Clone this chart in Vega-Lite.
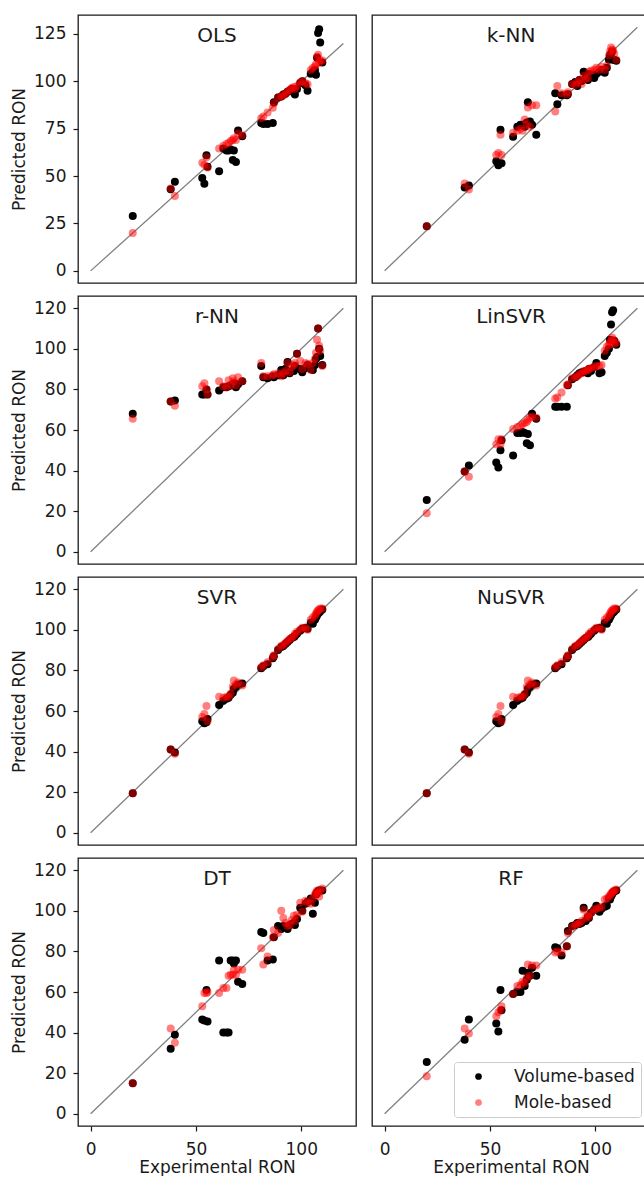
{
"$schema": "https://vega.github.io/schema/vega-lite/v6.json",
"padding": {"left": 9, "top": 14, "right": 0, "bottom": 0},
"spacing": 11,
"resolve": {"scale": {"x": "independent", "y": "independent", "color": "independent"}, "legend": {"color": "independent"}},
"datasets": {
"diag": [{"x": 0, "p": 0}, {"x": 120, "p": 120}],
"pts": [
{"m":"OLS","x":20,"v":29,"r":20},{"m":"OLS","x":38,"v":43,"r":43.5},{"m":"OLS","x":40,"v":47,"r":39.5},{"m":"OLS","x":53,"v":49,"r":57},{"m":"OLS","x":54,"v":46,"r":56},{"m":"OLS","x":55,"v":61,"r":60},{"m":"OLS","x":55.5,"v":55,"r":54.5},{"m":"OLS","x":61,"v":52.5,"r":64.5},{"m":"OLS","x":63,"v":64.5,"r":66},{"m":"OLS","x":64.5,"v":63.5,"r":67},{"m":"OLS","x":65.5,"v":63.5,"r":67.5},{"m":"OLS","x":66.5,"v":64,"r":68.5},{"m":"OLS","x":67.5,"v":58.5,"r":69},{"m":"OLS","x":68,"v":63.5,"r":70},{"m":"OLS","x":69,"v":57.5,"r":69},{"m":"OLS","x":70,"v":74,"r":72.5},{"m":"OLS","x":72,"v":71,"r":71.5},{"m":"OLS","x":81,"v":78,"r":80.5},{"m":"OLS","x":82,"v":77.5,"r":81.5},{"m":"OLS","x":84,"v":77.5,"r":83.5},{"m":"OLS","x":86.5,"v":78,"r":86},{"m":"OLS","x":87,"v":89,"r":88.5},{"m":"OLS","x":89,"v":91.5,"r":91.5},{"m":"OLS","x":90.5,"v":92,"r":92},{"m":"OLS","x":91.5,"v":93,"r":92.5},{"m":"OLS","x":92.5,"v":93.5,"r":93.5},{"m":"OLS","x":93.5,"v":94.5,"r":94.5},{"m":"OLS","x":94.5,"v":95,"r":95.5},{"m":"OLS","x":95.5,"v":96,"r":96.5},{"m":"OLS","x":96.5,"v":94,"r":97},{"m":"OLS","x":97,"v":93,"r":96},{"m":"OLS","x":98,"v":96,"r":97.5},{"m":"OLS","x":99.5,"v":99,"r":99.5},{"m":"OLS","x":100.5,"v":100,"r":100},{"m":"OLS","x":102,"v":98,"r":99},{"m":"OLS","x":103,"v":95,"r":98.5},{"m":"OLS","x":104.5,"v":104,"r":106},{"m":"OLS","x":105.5,"v":105,"r":107},{"m":"OLS","x":106.5,"v":106,"r":108},{"m":"OLS","x":107,"v":103.5,"r":109},{"m":"OLS","x":107.5,"v":112.5,"r":113},{"m":"OLS","x":108,"v":125.5,"r":114},{"m":"OLS","x":108.5,"v":127.5,"r":110},{"m":"OLS","x":109,"v":120.5,"r":111},{"m":"OLS","x":110,"v":110,"r":111},
{"m":"kNN","x":20,"v":22,"r":22},{"m":"kNN","x":38,"v":41,"r":43},{"m":"kNN","x":40,"v":42,"r":40},{"m":"kNN","x":53,"v":54,"r":57},{"m":"kNN","x":54,"v":52,"r":58},{"m":"kNN","x":55,"v":69.5,"r":67},{"m":"kNN","x":55.5,"v":53,"r":57},{"m":"kNN","x":61,"v":66,"r":68},{"m":"kNN","x":63,"v":71,"r":69},{"m":"kNN","x":64.5,"v":72,"r":70},{"m":"kNN","x":65.5,"v":72,"r":69},{"m":"kNN","x":66.5,"v":71,"r":74.5},{"m":"kNN","x":67.5,"v":73,"r":72},{"m":"kNN","x":68,"v":83,"r":80.5},{"m":"kNN","x":69,"v":73.5,"r":71},{"m":"kNN","x":70,"v":72,"r":81.5},{"m":"kNN","x":72,"v":67,"r":81.5},{"m":"kNN","x":81,"v":87.5,"r":78.5},{"m":"kNN","x":82,"v":82,"r":91},{"m":"kNN","x":84,"v":86.5,"r":87.5},{"m":"kNN","x":86.5,"v":86.5,"r":87},{"m":"kNN","x":87,"v":87,"r":88},{"m":"kNN","x":89,"v":92,"r":92},{"m":"kNN","x":90.5,"v":93,"r":91.5},{"m":"kNN","x":91.5,"v":91,"r":93},{"m":"kNN","x":92.5,"v":94,"r":94},{"m":"kNN","x":93.5,"v":93.5,"r":92},{"m":"kNN","x":94.5,"v":98,"r":96},{"m":"kNN","x":95.5,"v":95,"r":94.5},{"m":"kNN","x":96.5,"v":94,"r":95},{"m":"kNN","x":97,"v":97,"r":98},{"m":"kNN","x":98,"v":96.5,"r":98.5},{"m":"kNN","x":99.5,"v":95,"r":99},{"m":"kNN","x":100.5,"v":97,"r":100},{"m":"kNN","x":102,"v":98,"r":99},{"m":"kNN","x":103,"v":99,"r":100.5},{"m":"kNN","x":104.5,"v":97.5,"r":99},{"m":"kNN","x":105.5,"v":100,"r":101},{"m":"kNN","x":106.5,"v":104,"r":106},{"m":"kNN","x":107,"v":106,"r":108},{"m":"kNN","x":107.5,"v":107,"r":110},{"m":"kNN","x":108,"v":108,"r":109},{"m":"kNN","x":108.5,"v":104,"r":108.5},{"m":"kNN","x":109,"v":104,"r":107},{"m":"kNN","x":110,"v":103.5,"r":104},
{"m":"rNN","x":20,"v":68,"r":65.5},{"m":"rNN","x":38,"v":74,"r":74},{"m":"rNN","x":40,"v":74.5,"r":72},{"m":"rNN","x":53,"v":77.5,"r":81.5},{"m":"rNN","x":54,"v":77.5,"r":83},{"m":"rNN","x":55,"v":80,"r":80},{"m":"rNN","x":55.5,"v":77.5,"r":77.5},{"m":"rNN","x":61,"v":79.5,"r":84},{"m":"rNN","x":63,"v":81,"r":81.5},{"m":"rNN","x":64.5,"v":81,"r":81},{"m":"rNN","x":65.5,"v":81.5,"r":84.5},{"m":"rNN","x":66.5,"v":82,"r":82},{"m":"rNN","x":67.5,"v":82,"r":85.5},{"m":"rNN","x":68,"v":83,"r":84},{"m":"rNN","x":69,"v":81,"r":82},{"m":"rNN","x":70,"v":82.5,"r":86},{"m":"rNN","x":72,"v":84,"r":84},{"m":"rNN","x":81,"v":91.5,"r":93},{"m":"rNN","x":82,"v":86,"r":86.5},{"m":"rNN","x":84,"v":85.5,"r":86.5},{"m":"rNN","x":86.5,"v":86.5,"r":87},{"m":"rNN","x":87,"v":86,"r":87.5},{"m":"rNN","x":89,"v":87,"r":88},{"m":"rNN","x":90.5,"v":89.5,"r":86.5},{"m":"rNN","x":91.5,"v":87,"r":88},{"m":"rNN","x":92.5,"v":90,"r":89},{"m":"rNN","x":93.5,"v":93.5,"r":93},{"m":"rNN","x":94.5,"v":88,"r":88.5},{"m":"rNN","x":95.5,"v":89,"r":91},{"m":"rNN","x":96.5,"v":89,"r":92},{"m":"rNN","x":97,"v":91.5,"r":93},{"m":"rNN","x":98,"v":97.5,"r":97.5},{"m":"rNN","x":99.5,"v":90,"r":94},{"m":"rNN","x":100.5,"v":88.5,"r":90},{"m":"rNN","x":102,"v":90.5,"r":93},{"m":"rNN","x":103,"v":92,"r":92.5},{"m":"rNN","x":104.5,"v":90,"r":89.5},{"m":"rNN","x":105.5,"v":89.5,"r":93},{"m":"rNN","x":106.5,"v":92,"r":95},{"m":"rNN","x":107,"v":95,"r":98},{"m":"rNN","x":107.5,"v":96,"r":104.5},{"m":"rNN","x":108,"v":110,"r":110},{"m":"rNN","x":108.5,"v":100,"r":101.5},{"m":"rNN","x":109,"v":96.5,"r":99},{"m":"rNN","x":110,"v":92,"r":91.5},
{"m":"LinSVR","x":20,"v":25.5,"r":19},{"m":"LinSVR","x":38,"v":39.5,"r":39.5},{"m":"LinSVR","x":40,"v":42.5,"r":37},{"m":"LinSVR","x":53,"v":44,"r":53},{"m":"LinSVR","x":54,"v":41.5,"r":55.5},{"m":"LinSVR","x":55,"v":50,"r":53},{"m":"LinSVR","x":55.5,"v":55,"r":55.5},{"m":"LinSVR","x":61,"v":47.5,"r":60.5},{"m":"LinSVR","x":63,"v":58.5,"r":61.5},{"m":"LinSVR","x":64.5,"v":58.5,"r":62},{"m":"LinSVR","x":65.5,"v":59,"r":63},{"m":"LinSVR","x":66.5,"v":58.5,"r":63.5},{"m":"LinSVR","x":67.5,"v":53.5,"r":64},{"m":"LinSVR","x":68,"v":58,"r":65},{"m":"LinSVR","x":69,"v":52.5,"r":66},{"m":"LinSVR","x":70,"v":68,"r":66.5},{"m":"LinSVR","x":72,"v":65.5,"r":66},{"m":"LinSVR","x":81,"v":71.5,"r":75.5},{"m":"LinSVR","x":82,"v":71.5,"r":76},{"m":"LinSVR","x":84,"v":71.5,"r":78.5},{"m":"LinSVR","x":86.5,"v":71.5,"r":82},{"m":"LinSVR","x":87,"v":82,"r":82.5},{"m":"LinSVR","x":89,"v":85,"r":85.5},{"m":"LinSVR","x":90.5,"v":86,"r":86},{"m":"LinSVR","x":91.5,"v":87,"r":86.5},{"m":"LinSVR","x":92.5,"v":88,"r":87.5},{"m":"LinSVR","x":93.5,"v":88.5,"r":88},{"m":"LinSVR","x":94.5,"v":88.5,"r":89},{"m":"LinSVR","x":95.5,"v":89,"r":89},{"m":"LinSVR","x":96.5,"v":88,"r":89.5},{"m":"LinSVR","x":97,"v":90,"r":90},{"m":"LinSVR","x":98,"v":89,"r":90.5},{"m":"LinSVR","x":99.5,"v":91,"r":91},{"m":"LinSVR","x":100.5,"v":93,"r":91.5},{"m":"LinSVR","x":102,"v":88,"r":91.5},{"m":"LinSVR","x":103,"v":88.5,"r":92},{"m":"LinSVR","x":104.5,"v":96.5,"r":99},{"m":"LinSVR","x":105.5,"v":98,"r":101},{"m":"LinSVR","x":106.5,"v":100,"r":102},{"m":"LinSVR","x":107,"v":104.5,"r":103},{"m":"LinSVR","x":107.5,"v":112,"r":104},{"m":"LinSVR","x":108,"v":118,"r":105.5},{"m":"LinSVR","x":108.5,"v":119,"r":104.5},{"m":"LinSVR","x":109,"v":104,"r":102.5},{"m":"LinSVR","x":110,"v":102,"r":103},
{"m":"SVR","x":20,"v":19.5,"r":19.5},{"m":"SVR","x":38,"v":41,"r":41},{"m":"SVR","x":40,"v":39.5,"r":39},{"m":"SVR","x":53,"v":55,"r":57},{"m":"SVR","x":54,"v":54,"r":58.5},{"m":"SVR","x":55,"v":54.5,"r":62.5},{"m":"SVR","x":55.5,"v":56,"r":55},{"m":"SVR","x":61,"v":63,"r":67},{"m":"SVR","x":63,"v":65,"r":66.5},{"m":"SVR","x":64.5,"v":66,"r":67},{"m":"SVR","x":65.5,"v":66.5,"r":67},{"m":"SVR","x":66.5,"v":68,"r":68.5},{"m":"SVR","x":67.5,"v":69,"r":72},{"m":"SVR","x":68,"v":71,"r":75},{"m":"SVR","x":69,"v":72,"r":73},{"m":"SVR","x":70,"v":73,"r":74},{"m":"SVR","x":72,"v":73.5,"r":72.5},{"m":"SVR","x":81,"v":81,"r":81.5},{"m":"SVR","x":82,"v":82,"r":82.5},{"m":"SVR","x":84,"v":83,"r":84},{"m":"SVR","x":86.5,"v":86,"r":86.5},{"m":"SVR","x":87,"v":87,"r":87.5},{"m":"SVR","x":89,"v":90,"r":90.5},{"m":"SVR","x":90.5,"v":91.5,"r":92},{"m":"SVR","x":91.5,"v":92,"r":92.5},{"m":"SVR","x":92.5,"v":93,"r":93.5},{"m":"SVR","x":93.5,"v":94,"r":94.5},{"m":"SVR","x":94.5,"v":95,"r":95.5},{"m":"SVR","x":95.5,"v":96,"r":96},{"m":"SVR","x":96.5,"v":96.5,"r":97},{"m":"SVR","x":97,"v":97,"r":98},{"m":"SVR","x":98,"v":98,"r":99},{"m":"SVR","x":99.5,"v":99.5,"r":100},{"m":"SVR","x":100.5,"v":100.5,"r":101},{"m":"SVR","x":102,"v":101,"r":101},{"m":"SVR","x":103,"v":100.5,"r":100},{"m":"SVR","x":104.5,"v":103.5,"r":105},{"m":"SVR","x":105.5,"v":103,"r":106},{"m":"SVR","x":106.5,"v":105,"r":107},{"m":"SVR","x":107,"v":106,"r":108},{"m":"SVR","x":107.5,"v":107,"r":109},{"m":"SVR","x":108,"v":108,"r":109.5},{"m":"SVR","x":108.5,"v":108.5,"r":110},{"m":"SVR","x":109,"v":109,"r":110.5},{"m":"SVR","x":110,"v":110,"r":110.5},
{"m":"NuSVR","x":20,"v":19.5,"r":19.5},{"m":"NuSVR","x":38,"v":41,"r":41},{"m":"NuSVR","x":40,"v":39.5,"r":39},{"m":"NuSVR","x":53,"v":55,"r":57},{"m":"NuSVR","x":54,"v":54,"r":58.5},{"m":"NuSVR","x":55,"v":54.5,"r":62.5},{"m":"NuSVR","x":55.5,"v":56,"r":55},{"m":"NuSVR","x":61,"v":63,"r":67},{"m":"NuSVR","x":63,"v":65,"r":66.5},{"m":"NuSVR","x":64.5,"v":66,"r":67},{"m":"NuSVR","x":65.5,"v":66.5,"r":67},{"m":"NuSVR","x":66.5,"v":68,"r":68.5},{"m":"NuSVR","x":67.5,"v":69,"r":72},{"m":"NuSVR","x":68,"v":71,"r":75},{"m":"NuSVR","x":69,"v":72,"r":73},{"m":"NuSVR","x":70,"v":73,"r":74},{"m":"NuSVR","x":72,"v":73.5,"r":72.5},{"m":"NuSVR","x":81,"v":81,"r":81.5},{"m":"NuSVR","x":82,"v":82,"r":82.5},{"m":"NuSVR","x":84,"v":83,"r":84},{"m":"NuSVR","x":86.5,"v":86,"r":86.5},{"m":"NuSVR","x":87,"v":87,"r":87.5},{"m":"NuSVR","x":89,"v":90,"r":90.5},{"m":"NuSVR","x":90.5,"v":91.5,"r":92},{"m":"NuSVR","x":91.5,"v":92,"r":92.5},{"m":"NuSVR","x":92.5,"v":93,"r":93.5},{"m":"NuSVR","x":93.5,"v":94,"r":94.5},{"m":"NuSVR","x":94.5,"v":95,"r":95.5},{"m":"NuSVR","x":95.5,"v":96,"r":96},{"m":"NuSVR","x":96.5,"v":96.5,"r":97},{"m":"NuSVR","x":97,"v":97,"r":98},{"m":"NuSVR","x":98,"v":98,"r":99},{"m":"NuSVR","x":99.5,"v":99.5,"r":100},{"m":"NuSVR","x":100.5,"v":100.5,"r":101},{"m":"NuSVR","x":102,"v":101,"r":101},{"m":"NuSVR","x":103,"v":100.5,"r":100},{"m":"NuSVR","x":104.5,"v":103.5,"r":105},{"m":"NuSVR","x":105.5,"v":103,"r":106},{"m":"NuSVR","x":106.5,"v":105,"r":107},{"m":"NuSVR","x":107,"v":106,"r":108},{"m":"NuSVR","x":107.5,"v":107,"r":109},{"m":"NuSVR","x":108,"v":108,"r":109.5},{"m":"NuSVR","x":108.5,"v":108.5,"r":110},{"m":"NuSVR","x":109,"v":109,"r":110.5},{"m":"NuSVR","x":110,"v":110,"r":110.5},
{"m":"DT","x":20,"v":15,"r":15},{"m":"DT","x":38,"v":32,"r":42},{"m":"DT","x":40,"v":39,"r":35},{"m":"DT","x":53,"v":46.5,"r":53},{"m":"DT","x":54,"v":46,"r":59.5},{"m":"DT","x":55,"v":61,"r":59.5},{"m":"DT","x":55.5,"v":45.5,"r":60},{"m":"DT","x":61,"v":75.5,"r":59.5},{"m":"DT","x":63,"v":40,"r":62},{"m":"DT","x":64.5,"v":40,"r":62},{"m":"DT","x":65.5,"v":40,"r":68},{"m":"DT","x":66.5,"v":75.5,"r":68.5},{"m":"DT","x":67.5,"v":75.5,"r":68.5},{"m":"DT","x":68,"v":74,"r":71},{"m":"DT","x":69,"v":75.5,"r":68.5},{"m":"DT","x":70,"v":65,"r":71},{"m":"DT","x":72,"v":64,"r":71},{"m":"DT","x":81,"v":89.5,"r":81.5},{"m":"DT","x":82,"v":89,"r":73.5},{"m":"DT","x":84,"v":75.5,"r":77.5},{"m":"DT","x":86.5,"v":76,"r":87},{"m":"DT","x":87,"v":87,"r":90.5},{"m":"DT","x":89,"v":92.5,"r":89},{"m":"DT","x":90.5,"v":91,"r":100},{"m":"DT","x":91.5,"v":92.5,"r":96.5},{"m":"DT","x":92.5,"v":92,"r":94},{"m":"DT","x":93.5,"v":91,"r":92.5},{"m":"DT","x":94.5,"v":93,"r":93},{"m":"DT","x":95.5,"v":93.5,"r":95.5},{"m":"DT","x":96.5,"v":94,"r":97.5},{"m":"DT","x":97,"v":93,"r":95},{"m":"DT","x":98,"v":96,"r":98},{"m":"DT","x":99.5,"v":101.5,"r":104},{"m":"DT","x":100.5,"v":100,"r":99.5},{"m":"DT","x":102,"v":103.5,"r":105},{"m":"DT","x":103,"v":104.5,"r":104},{"m":"DT","x":104.5,"v":106,"r":103.5},{"m":"DT","x":105.5,"v":98.5,"r":106},{"m":"DT","x":106.5,"v":104,"r":108},{"m":"DT","x":107,"v":108,"r":109},{"m":"DT","x":107.5,"v":109,"r":110},{"m":"DT","x":108,"v":109.5,"r":108.5},{"m":"DT","x":108.5,"v":110,"r":107},{"m":"DT","x":109,"v":110,"r":110},{"m":"DT","x":110,"v":110,"r":111},
{"m":"RF","x":20,"v":25.5,"r":18.5},{"m":"RF","x":38,"v":36.5,"r":42},{"m":"RF","x":40,"v":46.5,"r":39.5},{"m":"RF","x":53,"v":44.5,"r":48},{"m":"RF","x":54,"v":40.5,"r":50},{"m":"RF","x":55,"v":61,"r":51},{"m":"RF","x":55.5,"v":51,"r":53},{"m":"RF","x":61,"v":59,"r":59},{"m":"RF","x":63,"v":60,"r":63},{"m":"RF","x":64.5,"v":60,"r":63.5},{"m":"RF","x":65.5,"v":70.5,"r":65},{"m":"RF","x":66.5,"v":63,"r":64.5},{"m":"RF","x":67.5,"v":66,"r":67},{"m":"RF","x":68,"v":69.5,"r":73.5},{"m":"RF","x":69,"v":68,"r":68},{"m":"RF","x":70,"v":72,"r":73},{"m":"RF","x":72,"v":68,"r":73},{"m":"RF","x":81,"v":82,"r":79.5},{"m":"RF","x":82,"v":81.5,"r":80},{"m":"RF","x":84,"v":78,"r":79.5},{"m":"RF","x":86.5,"v":82.5,"r":82.5},{"m":"RF","x":87,"v":90,"r":89},{"m":"RF","x":89,"v":92.5,"r":92},{"m":"RF","x":90.5,"v":93,"r":93},{"m":"RF","x":91.5,"v":94,"r":93.5},{"m":"RF","x":92.5,"v":93.5,"r":94},{"m":"RF","x":93.5,"v":94,"r":95},{"m":"RF","x":94.5,"v":101.5,"r":100.5},{"m":"RF","x":95.5,"v":95,"r":96.5},{"m":"RF","x":96.5,"v":97,"r":97.5},{"m":"RF","x":97,"v":96.5,"r":97},{"m":"RF","x":98,"v":99,"r":99},{"m":"RF","x":99.5,"v":100.5,"r":100.5},{"m":"RF","x":100.5,"v":102.5,"r":101},{"m":"RF","x":102,"v":99.5,"r":101.5},{"m":"RF","x":103,"v":101,"r":102},{"m":"RF","x":104.5,"v":102,"r":105.5},{"m":"RF","x":105.5,"v":102.5,"r":106},{"m":"RF","x":106.5,"v":106,"r":107},{"m":"RF","x":107,"v":105.5,"r":107.5},{"m":"RF","x":107.5,"v":107,"r":108.5},{"m":"RF","x":108,"v":108,"r":109},{"m":"RF","x":108.5,"v":109,"r":109.5},{"m":"RF","x":109,"v":109.5,"r":110},{"m":"RF","x":110,"v":110,"r":110.5}
]
},
"vconcat": [
{"hconcat": [
{"width": 278, "height": 268, "title": "OLS",
 "encoding": {"x": {"field": "x", "type": "quantitative", "scale": {"domain": [-6, 126], "nice": false, "zero": false}, "axis": null},
  "y": {"field": "p", "type": "quantitative", "scale": {"domain": [-6.4, 135], "nice": false, "zero": false}, "axis": {"title": "Predicted RON", "values": [0, 25, 50, 75, 100, 125]}}},
 "layer": [
  {"data": {"name": "diag"}, "mark": {"type": "line", "color": "#808080", "strokeWidth": 1.3}, "encoding": {}},
  {"data": {"name": "pts"}, "transform": [{"filter": "datum.m === 'OLS'"}, {"fold": ["v", "r"], "as": ["s", "p"]}],
   "mark": {"type": "point", "filled": true, "size": 64, "opacity": 1, "strokeWidth": 0},
   "encoding": {"color": {"field": "s", "type": "nominal", "scale": {"domain": ["v", "r"], "range": ["#000000", "rgba(255,0,0,0.5)"]}, "legend": null}, "order": {"field": "s", "sort": "descending"}}}
 ]},
{"width": 278, "height": 268, "title": "k-NN",
 "encoding": {"x": {"field": "x", "type": "quantitative", "scale": {"domain": [-6, 126], "nice": false, "zero": false}, "axis": null},
  "y": {"field": "p", "type": "quantitative", "scale": {"domain": [-6, 126], "nice": false, "zero": false}, "axis": null}},
 "layer": [
  {"data": {"name": "diag"}, "mark": {"type": "line", "color": "#808080", "strokeWidth": 1.3}, "encoding": {}},
  {"data": {"name": "pts"}, "transform": [{"filter": "datum.m === 'kNN'"}, {"fold": ["v", "r"], "as": ["s", "p"]}],
   "mark": {"type": "point", "filled": true, "size": 64, "opacity": 1, "strokeWidth": 0},
   "encoding": {"color": {"field": "s", "type": "nominal", "scale": {"domain": ["v", "r"], "range": ["#000000", "rgba(255,0,0,0.5)"]}, "legend": null}, "order": {"field": "s", "sort": "descending"}}}
 ]}
], "spacing": 14, "resolve": {"scale": {"x": "independent", "y": "independent", "color": "independent"}, "legend": {"color": "independent"}}},
{"hconcat": [
{"width": 278, "height": 268, "title": "r-NN",
 "encoding": {"x": {"field": "x", "type": "quantitative", "scale": {"domain": [-6, 126], "nice": false, "zero": false}, "axis": null},
  "y": {"field": "p", "type": "quantitative", "scale": {"domain": [-6, 126], "nice": false, "zero": false}, "axis": {"title": "Predicted RON", "values": [0, 20, 40, 60, 80, 100, 120]}}},
 "layer": [
  {"data": {"name": "diag"}, "mark": {"type": "line", "color": "#808080", "strokeWidth": 1.3}, "encoding": {}},
  {"data": {"name": "pts"}, "transform": [{"filter": "datum.m === 'rNN'"}, {"fold": ["v", "r"], "as": ["s", "p"]}],
   "mark": {"type": "point", "filled": true, "size": 64, "opacity": 1, "strokeWidth": 0},
   "encoding": {"color": {"field": "s", "type": "nominal", "scale": {"domain": ["v", "r"], "range": ["#000000", "rgba(255,0,0,0.5)"]}, "legend": null}, "order": {"field": "s", "sort": "descending"}}}
 ]},
{"width": 278, "height": 268, "title": "LinSVR",
 "encoding": {"x": {"field": "x", "type": "quantitative", "scale": {"domain": [-6, 126], "nice": false, "zero": false}, "axis": null},
  "y": {"field": "p", "type": "quantitative", "scale": {"domain": [-6, 126], "nice": false, "zero": false}, "axis": null}},
 "layer": [
  {"data": {"name": "diag"}, "mark": {"type": "line", "color": "#808080", "strokeWidth": 1.3}, "encoding": {}},
  {"data": {"name": "pts"}, "transform": [{"filter": "datum.m === 'LinSVR'"}, {"fold": ["v", "r"], "as": ["s", "p"]}],
   "mark": {"type": "point", "filled": true, "size": 64, "opacity": 1, "strokeWidth": 0},
   "encoding": {"color": {"field": "s", "type": "nominal", "scale": {"domain": ["v", "r"], "range": ["#000000", "rgba(255,0,0,0.5)"]}, "legend": null}, "order": {"field": "s", "sort": "descending"}}}
 ]}
], "spacing": 14, "resolve": {"scale": {"x": "independent", "y": "independent", "color": "independent"}, "legend": {"color": "independent"}}},
{"hconcat": [
{"width": 278, "height": 268, "title": "SVR",
 "encoding": {"x": {"field": "x", "type": "quantitative", "scale": {"domain": [-6, 126], "nice": false, "zero": false}, "axis": null},
  "y": {"field": "p", "type": "quantitative", "scale": {"domain": [-6, 126], "nice": false, "zero": false}, "axis": {"title": "Predicted RON", "values": [0, 20, 40, 60, 80, 100, 120]}}},
 "layer": [
  {"data": {"name": "diag"}, "mark": {"type": "line", "color": "#808080", "strokeWidth": 1.3}, "encoding": {}},
  {"data": {"name": "pts"}, "transform": [{"filter": "datum.m === 'SVR'"}, {"fold": ["v", "r"], "as": ["s", "p"]}],
   "mark": {"type": "point", "filled": true, "size": 64, "opacity": 1, "strokeWidth": 0},
   "encoding": {"color": {"field": "s", "type": "nominal", "scale": {"domain": ["v", "r"], "range": ["#000000", "rgba(255,0,0,0.5)"]}, "legend": null}, "order": {"field": "s", "sort": "descending"}}}
 ]},
{"width": 278, "height": 268, "title": "NuSVR",
 "encoding": {"x": {"field": "x", "type": "quantitative", "scale": {"domain": [-6, 126], "nice": false, "zero": false}, "axis": null},
  "y": {"field": "p", "type": "quantitative", "scale": {"domain": [-6, 126], "nice": false, "zero": false}, "axis": null}},
 "layer": [
  {"data": {"name": "diag"}, "mark": {"type": "line", "color": "#808080", "strokeWidth": 1.3}, "encoding": {}},
  {"data": {"name": "pts"}, "transform": [{"filter": "datum.m === 'NuSVR'"}, {"fold": ["v", "r"], "as": ["s", "p"]}],
   "mark": {"type": "point", "filled": true, "size": 64, "opacity": 1, "strokeWidth": 0},
   "encoding": {"color": {"field": "s", "type": "nominal", "scale": {"domain": ["v", "r"], "range": ["#000000", "rgba(255,0,0,0.5)"]}, "legend": null}, "order": {"field": "s", "sort": "descending"}}}
 ]}
], "spacing": 14, "resolve": {"scale": {"x": "independent", "y": "independent", "color": "independent"}, "legend": {"color": "independent"}}},
{"hconcat": [
{"width": 278, "height": 268, "title": "DT",
 "encoding": {"x": {"field": "x", "type": "quantitative", "scale": {"domain": [-6, 126], "nice": false, "zero": false}, "axis": {"title": "Experimental RON", "values": [0, 50, 100]}},
  "y": {"field": "p", "type": "quantitative", "scale": {"domain": [-6, 126], "nice": false, "zero": false}, "axis": {"title": "Predicted RON", "values": [0, 20, 40, 60, 80, 100, 120]}}},
 "layer": [
  {"data": {"name": "diag"}, "mark": {"type": "line", "color": "#808080", "strokeWidth": 1.3}, "encoding": {}},
  {"data": {"name": "pts"}, "transform": [{"filter": "datum.m === 'DT'"}, {"fold": ["v", "r"], "as": ["s", "p"]}],
   "mark": {"type": "point", "filled": true, "size": 64, "opacity": 1, "strokeWidth": 0},
   "encoding": {"color": {"field": "s", "type": "nominal", "scale": {"domain": ["v", "r"], "range": ["#000000", "rgba(255,0,0,0.5)"]}, "legend": null}, "order": {"field": "s", "sort": "descending"}}}
 ]},
{"width": 278, "height": 268, "title": "RF",
 "encoding": {"x": {"field": "x", "type": "quantitative", "scale": {"domain": [-6, 126], "nice": false, "zero": false}, "axis": {"title": "Experimental RON", "values": [0, 50, 100]}},
  "y": {"field": "p", "type": "quantitative", "scale": {"domain": [-6, 126], "nice": false, "zero": false}, "axis": null}},
 "layer": [
  {"data": {"name": "diag"}, "mark": {"type": "line", "color": "#808080", "strokeWidth": 1.3}, "encoding": {}},
  {"data": {"name": "pts"}, "transform": [{"filter": "datum.m === 'RF'"}, {"fold": ["v", "r"], "as": ["s", "p"]}],
   "mark": {"type": "point", "filled": true, "size": 64, "opacity": 1, "strokeWidth": 0},
   "encoding": {"color": {"field": "s", "type": "nominal", "scale": {"domain": ["v", "r"], "range": ["#000000", "rgba(255,0,0,0.5)"]},
     "legend": {"orient": "bottom-right", "offset": 9, "title": null, "labelExpr": "datum.value === 'v' ? 'Volume-based' : 'Mole-based'", "labelFontSize": 17, "labelColor": "#1a1a1a", "fillColor": "white", "strokeColor": "#cccccc", "cornerRadius": 3, "padding": 6, "rowPadding": 8, "symbolSize": 45, "symbolOffset": 10, "labelOffset": 27, "symbolType": "circle", "symbolStrokeWidth": 0, "symbolOpacity": 1}},
    "order": {"field": "s", "sort": "descending"}}}
 ]}
], "spacing": 14, "resolve": {"scale": {"x": "independent", "y": "independent", "color": "independent"}, "legend": {"color": "independent"}}}
],
"config": {
 "font": "DejaVu Sans",
 "view": {"stroke": "#1a1a1a", "strokeWidth": 1.3},
 "axis": {"grid": false, "domain": false, "tickColor": "#1a1a1a", "tickSize": 5, "tickWidth": 1.2, "labelFontSize": 17, "labelColor": "#1a1a1a", "titleFontSize": 17, "titleFontWeight": "normal", "titleColor": "#1a1a1a", "labelFlush": false, "labelOverlap": false},
 "axisY": {"labelPadding": 7, "titlePadding": 10, "minExtent": 44, "maxExtent": 44, "titleBaseline": "alphabetic"},
 "axisX": {"labelPadding": 10, "titlePadding": 2},
 "title": {"fontSize": 20, "fontWeight": "normal", "color": "#1a1a1a", "offset": -30.7, "baseline": "alphabetic", "frame": "group", "anchor": "middle"}
}
}
